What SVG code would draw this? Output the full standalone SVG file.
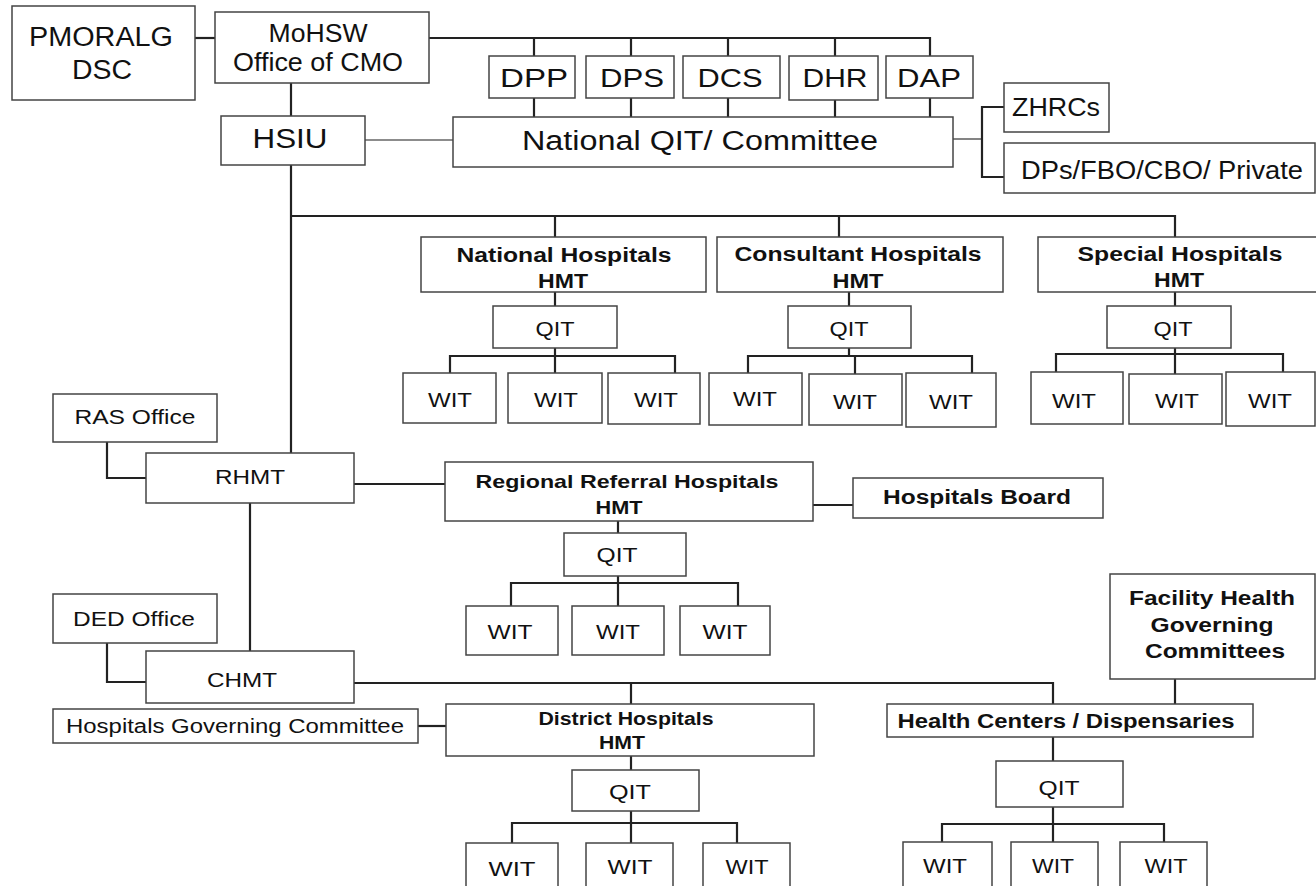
<svg xmlns="http://www.w3.org/2000/svg" width="1316" height="886" viewBox="0 0 1316 886">
<style>
.box{fill:#fff;stroke:#444;stroke-width:1.5}
.ln{fill:none;stroke:#222;stroke-width:2.2}
.lt{fill:none;stroke:#666;stroke-width:1.6}
text{font-family:"Liberation Sans",Arial,sans-serif;fill:#111;text-anchor:middle}
.b{font-weight:bold}
</style>
<rect width="1316" height="886" fill="#fff"/>
<g id="connectors">
<path class="ln" d="M195 38H215"/>
<path class="ln" d="M429 38H930V56M534 38V56M631 38V56M728 38V56M835 38V56"/>
<path class="ln" d="M534 98V117M631 98V117M728 98V117M835 100V117M930 98V117"/>
<path class="ln" d="M291 83V116"/>
<path class="lt" d="M365 140H453"/>
<path class="lt" d="M953 139H982"/>
<path class="ln" d="M1004 107H982V177H1004"/>
<path class="ln" d="M291 165V453"/>
<path class="ln" d="M291 216H1175V237M555 216V237M839 216V237"/>
<path class="ln" d="M555 292V306M555 348V373M450 373V356H675V373"/>
<path class="ln" d="M849 292V306M849 348V356M855 356V374M748 373V356H972V373"/>
<path class="ln" d="M1175 292V306M1175 348V374M1056 372V354H1283V372"/>
<path class="ln" d="M107 442V478H146"/>
<path class="ln" d="M354 484H445"/>
<path class="ln" d="M813 505H853"/>
<path class="ln" d="M618 521V533M618 576V606M511 606V583H738V606"/>
<path class="ln" d="M250 503V651"/>
<path class="ln" d="M107 643V682H146"/>
<path class="ln" d="M354 683H1053V704M631 683V704"/>
<path class="ln" d="M418 726H446"/>
<path class="ln" d="M631 756V770M631 811V843M512 843V823H737V843"/>
<path class="ln" d="M1175 679V704"/>
<path class="ln" d="M1053 737V761M1053 807V842M942 842V824H1164V842"/>
</g>
<g id="pmoralg"><rect class="box" x="12" y="6" width="183" height="94"/><text x="101" y="46" font-size="27" textLength="144" lengthAdjust="spacingAndGlyphs">PMORALG</text><text x="102" y="79" font-size="27" textLength="60" lengthAdjust="spacingAndGlyphs">DSC</text></g>
<g id="mohsw"><rect class="box" x="215" y="12" width="214" height="71"/><text x="318" y="42" font-size="26" textLength="99" lengthAdjust="spacingAndGlyphs">MoHSW</text><text x="318" y="71" font-size="26" textLength="170" lengthAdjust="spacingAndGlyphs">Office of CMO</text></g>
<g id="dpp"><rect class="box" x="489" y="56" width="86" height="42"/><text x="534" y="87" font-size="25" textLength="68" lengthAdjust="spacingAndGlyphs">DPP</text></g>
<g id="dps"><rect class="box" x="586" y="56" width="88" height="42"/><text x="632" y="87" font-size="25" textLength="64" lengthAdjust="spacingAndGlyphs">DPS</text></g>
<g id="dcs"><rect class="box" x="683" y="56" width="97" height="42"/><text x="730" y="87" font-size="25" textLength="65" lengthAdjust="spacingAndGlyphs">DCS</text></g>
<g id="dhr"><rect class="box" x="789" y="56" width="89" height="44"/><text x="835" y="87" font-size="25" textLength="65" lengthAdjust="spacingAndGlyphs">DHR</text></g>
<g id="dap"><rect class="box" x="886" y="56" width="87" height="42"/><text x="929" y="87" font-size="25" textLength="64" lengthAdjust="spacingAndGlyphs">DAP</text></g>
<g id="hsiu"><rect class="box" x="221" y="116" width="144" height="49"/><text x="290" y="148" font-size="27" textLength="75" lengthAdjust="spacingAndGlyphs">HSIU</text></g>
<g id="national-qit"><rect class="box" x="453" y="117" width="500" height="50"/><text x="700" y="150" font-size="27" textLength="356" lengthAdjust="spacingAndGlyphs">National QIT/ Committee</text></g>
<g id="zhrcs"><rect class="box" x="1004" y="83" width="105" height="49"/><text x="1056" y="116" font-size="25" textLength="88" lengthAdjust="spacingAndGlyphs">ZHRCs</text></g>
<g id="dps-private"><rect class="box" x="1004" y="143" width="311" height="50"/><text x="1162" y="179" font-size="26" textLength="282" lengthAdjust="spacingAndGlyphs">DPs/FBO/CBO/ Private</text></g>
<g id="national-hosp"><rect class="box" x="421" y="237" width="285" height="55"/><text class="b" x="564" y="262" font-size="20" textLength="215" lengthAdjust="spacingAndGlyphs">National Hospitals</text><text class="b" x="563" y="288" font-size="20" textLength="50" lengthAdjust="spacingAndGlyphs">HMT</text></g>
<g id="consultant-hosp"><rect class="box" x="717" y="237" width="286" height="55"/><text class="b" x="858" y="261" font-size="20" textLength="247" lengthAdjust="spacingAndGlyphs">Consultant Hospitals</text><text class="b" x="858" y="288" font-size="20" textLength="51" lengthAdjust="spacingAndGlyphs">HMT</text></g>
<g id="special-hosp"><rect class="box" x="1038" y="237" width="290" height="55"/><text class="b" x="1180" y="261" font-size="20" textLength="205" lengthAdjust="spacingAndGlyphs">Special Hospitals</text><text class="b" x="1179" y="287" font-size="20" textLength="50" lengthAdjust="spacingAndGlyphs">HMT</text></g>
<g id="qit-national"><rect class="box" x="493" y="306" width="124" height="42"/><text x="555" y="336" font-size="21" textLength="39" lengthAdjust="spacingAndGlyphs">QIT</text></g>
<g id="qit-consultant"><rect class="box" x="788" y="306" width="123" height="42"/><text x="849" y="336" font-size="21" textLength="39" lengthAdjust="spacingAndGlyphs">QIT</text></g>
<g id="qit-special"><rect class="box" x="1107" y="306" width="124" height="42"/><text x="1173" y="336" font-size="21" textLength="39" lengthAdjust="spacingAndGlyphs">QIT</text></g>
<g id="wit-n1"><rect class="box" x="403" y="373" width="93" height="50"/><text x="450" y="407" font-size="21" textLength="44" lengthAdjust="spacingAndGlyphs">WIT</text></g>
<g id="wit-n2"><rect class="box" x="508" y="373" width="94" height="50"/><text x="556" y="407" font-size="21" textLength="44" lengthAdjust="spacingAndGlyphs">WIT</text></g>
<g id="wit-n3"><rect class="box" x="608" y="373" width="92" height="51"/><text x="656" y="407" font-size="21" textLength="44" lengthAdjust="spacingAndGlyphs">WIT</text></g>
<g id="wit-c1"><rect class="box" x="709" y="373" width="93" height="52"/><text x="755" y="406" font-size="21" textLength="44" lengthAdjust="spacingAndGlyphs">WIT</text></g>
<g id="wit-c2"><rect class="box" x="809" y="374" width="93" height="51"/><text x="855" y="409" font-size="21" textLength="44" lengthAdjust="spacingAndGlyphs">WIT</text></g>
<g id="wit-c3"><rect class="box" x="906" y="373" width="90" height="54"/><text x="951" y="409" font-size="21" textLength="44" lengthAdjust="spacingAndGlyphs">WIT</text></g>
<g id="wit-s1"><rect class="box" x="1031" y="372" width="92" height="52"/><text x="1074" y="408" font-size="21" textLength="44" lengthAdjust="spacingAndGlyphs">WIT</text></g>
<g id="wit-s2"><rect class="box" x="1129" y="374" width="93" height="50"/><text x="1177" y="408" font-size="21" textLength="44" lengthAdjust="spacingAndGlyphs">WIT</text></g>
<g id="wit-s3"><rect class="box" x="1226" y="372" width="89" height="54"/><text x="1270" y="408" font-size="21" textLength="44" lengthAdjust="spacingAndGlyphs">WIT</text></g>
<g id="ras-office"><rect class="box" x="53" y="394" width="164" height="48"/><text x="135" y="424" font-size="21" textLength="121" lengthAdjust="spacingAndGlyphs">RAS Office</text></g>
<g id="rhmt"><rect class="box" x="146" y="453" width="208" height="50"/><text x="250" y="484" font-size="21" textLength="70" lengthAdjust="spacingAndGlyphs">RHMT</text></g>
<g id="regional-hosp"><rect class="box" x="445" y="462" width="368" height="59"/><text class="b" x="627" y="488" font-size="19" textLength="303" lengthAdjust="spacingAndGlyphs">Regional Referral Hospitals</text><text class="b" x="619" y="514" font-size="19" textLength="47" lengthAdjust="spacingAndGlyphs">HMT</text></g>
<g id="hospitals-board"><rect class="box" x="853" y="478" width="250" height="40"/><text class="b" x="977" y="504" font-size="20" textLength="188" lengthAdjust="spacingAndGlyphs">Hospitals Board</text></g>
<g id="qit-regional"><rect class="box" x="564" y="533" width="122" height="43"/><text x="617" y="562" font-size="21" textLength="41" lengthAdjust="spacingAndGlyphs">QIT</text></g>
<g id="wit-r1"><rect class="box" x="466" y="606" width="92" height="49"/><text x="510" y="639" font-size="21" textLength="45" lengthAdjust="spacingAndGlyphs">WIT</text></g>
<g id="wit-r2"><rect class="box" x="572" y="606" width="92" height="49"/><text x="618" y="639" font-size="21" textLength="44" lengthAdjust="spacingAndGlyphs">WIT</text></g>
<g id="wit-r3"><rect class="box" x="680" y="606" width="90" height="49"/><text x="725" y="639" font-size="21" textLength="45" lengthAdjust="spacingAndGlyphs">WIT</text></g>
<g id="facility-hgc"><rect class="box" x="1110" y="574" width="205" height="105"/><text class="b" x="1212" y="605" font-size="20" textLength="166" lengthAdjust="spacingAndGlyphs">Facility Health</text><text class="b" x="1212" y="632" font-size="20" textLength="123" lengthAdjust="spacingAndGlyphs">Governing</text><text class="b" x="1215" y="658" font-size="20" textLength="140" lengthAdjust="spacingAndGlyphs">Committees</text></g>
<g id="ded-office"><rect class="box" x="53" y="594" width="164" height="49"/><text x="134" y="626" font-size="21" textLength="122" lengthAdjust="spacingAndGlyphs">DED Office</text></g>
<g id="chmt"><rect class="box" x="146" y="651" width="208" height="52"/><text x="242" y="687" font-size="21" textLength="70" lengthAdjust="spacingAndGlyphs">CHMT</text></g>
<g id="hospitals-gc"><rect class="box" x="53" y="709" width="365" height="34"/><text x="235" y="733" font-size="20" textLength="338" lengthAdjust="spacingAndGlyphs">Hospitals Governing Committee</text></g>
<g id="district-hosp"><rect class="box" x="446" y="704" width="368" height="52"/><text class="b" x="626" y="725" font-size="18" textLength="175" lengthAdjust="spacingAndGlyphs">District Hospitals</text><text class="b" x="622" y="749" font-size="18" textLength="46" lengthAdjust="spacingAndGlyphs">HMT</text></g>
<g id="health-centers"><rect class="box" x="887" y="704" width="366" height="33"/><text class="b" x="1066" y="728" font-size="20" textLength="337" lengthAdjust="spacingAndGlyphs">Health Centers / Dispensaries</text></g>
<g id="qit-district"><rect class="box" x="572" y="770" width="127" height="41"/><text x="630" y="799" font-size="21" textLength="42" lengthAdjust="spacingAndGlyphs">QIT</text></g>
<g id="qit-hc"><rect class="box" x="996" y="761" width="127" height="46"/><text x="1059" y="795" font-size="21" textLength="41" lengthAdjust="spacingAndGlyphs">QIT</text></g>
<g id="wit-d1"><rect class="box" x="466" y="843" width="92" height="60"/><text x="512" y="876" font-size="21" textLength="47" lengthAdjust="spacingAndGlyphs">WIT</text></g>
<g id="wit-d2"><rect class="box" x="586" y="843" width="87" height="60"/><text x="630" y="874" font-size="21" textLength="45" lengthAdjust="spacingAndGlyphs">WIT</text></g>
<g id="wit-d3"><rect class="box" x="703" y="843" width="87" height="60"/><text x="747" y="874" font-size="21" textLength="43" lengthAdjust="spacingAndGlyphs">WIT</text></g>
<g id="wit-h1"><rect class="box" x="903" y="842" width="89" height="60"/><text x="945" y="873" font-size="21" textLength="44" lengthAdjust="spacingAndGlyphs">WIT</text></g>
<g id="wit-h2"><rect class="box" x="1011" y="842" width="87" height="60"/><text x="1053" y="873" font-size="21" textLength="42" lengthAdjust="spacingAndGlyphs">WIT</text></g>
<g id="wit-h3"><rect class="box" x="1120" y="842" width="87" height="60"/><text x="1166" y="873" font-size="21" textLength="43" lengthAdjust="spacingAndGlyphs">WIT</text></g>
</svg>
